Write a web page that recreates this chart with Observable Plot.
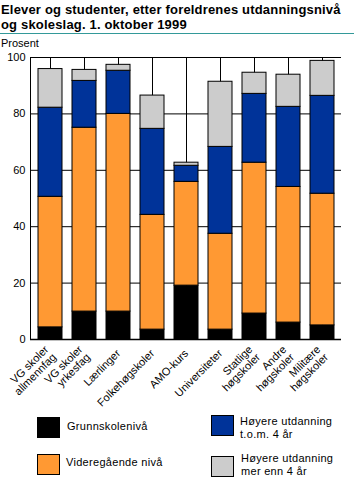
<!DOCTYPE html>
<html>
<head>
<meta charset="utf-8">
<script src="https://cdn.jsdelivr.net/npm/d3@7"></script>
<script src="https://cdn.jsdelivr.net/npm/@observablehq/plot@0.6"></script>
<style>
  html, body { margin: 0; padding: 0; background: #fff; }
  #wrap { position: relative; width: 354px; height: 481px; overflow: hidden; font-family: Arial, "Liberation Sans", Helvetica, sans-serif; color: #000; }
  .title { position: absolute; left: 1px; font-size: 13px; line-height: 15px; height: 15px; font-weight: bold; letter-spacing: 0.18px; white-space: nowrap; }
  #rule { position: absolute; left: 0; top: 33px; width: 354px; height: 0; border-top: 1px solid #339999; }
  #unit { position: absolute; left: 1px; top: 38px; font-size: 11px; line-height: 11px; }
  #chart { position: absolute; left: 0; top: 50px; }
  .sw { position: absolute; width: 21px; height: 19px; border: 1px solid #000; }
  .lt { position: absolute; font-size: 11px; line-height: 13px; letter-spacing: 0.3px; white-space: nowrap; }
</style>
</head>
<body>
<div id="wrap">
  <div class="title" style="top:2px">Elever og studenter, etter foreldrenes utdanningsnivå</div>
  <div class="title" style="top:17px">og skoleslag. 1. oktober 1999</div>
  <div id="rule"></div>
  <div id="unit">Prosent</div>
  <div id="chart"></div>
  <div id="legend"></div>
</div>
<script>
// Categories (school types) and their axis labels
const categories = ["VG skoler allmennfag", "VG skoler yrkesfag", "Lærlinger", "Folkehøgskoler", "AMO-kurs", "Universiteter", "Statlige høgskoler", "Andre høgskoler", "Militære høgskoler"];
const tickLabels = ["VG skoler\nallmennfag", "VG skoler\nyrkesfag", "Lærlinger", "Folkehøgskoler", "AMO-kurs", "Universiteter", "Statlige\nhøgskoler", "Andre\nhøgskoler", "Militære\nhøgskoler"];

// Series (parents' education level), bottom to top
const seriesNames = ["Grunnskolenivå", "Videregående nivå", "Høyere utdanning t.o.m. 4 år", "Høyere utdanning mer enn 4 år"];
const legendLabels = ["Grunnskolenivå", "Videregående nivå", "Høyere utdanning\nt.o.m. 4 år", "Høyere utdanning\nmer enn 4 år"];
const seriesColors = ["#000000", "#FF9933", "#003399", "#CCCCCC"];

// Values in percent
const grunnskole   = [4.3, 9.9, 9.9, 3.5, 19.1, 3.5, 9.2, 6.0, 5.0];
const videregaende = [46.3, 65.2, 70.1, 40.7, 36.8, 34.0, 53.5, 48.1, 46.7];
const hoyereKort   = [31.6, 16.6, 15.3, 30.5, 5.7, 30.8, 24.4, 28.4, 34.7];
const hoyereLang   = [13.7, 3.9, 2.1, 11.8, 1.1, 23.1, 7.5, 11.4, 12.4];

const yTicks = [0, 20, 40, 60, 80, 100];
const gridTicks = [20, 40, 60, 80, 100];

const seriesValues = [grunnskole, videregaende, hoyereKort, hoyereLang];
const data = [];
seriesNames.forEach((s, si) => {
  categories.forEach((c, ci) => data.push({cat: c, series: s, value: seriesValues[si][ci]}));
});

const chart = Plot.plot({
  width: 354,
  height: 362,
  marginLeft: 30,
  marginRight: 13,
  marginTop: 7,
  marginBottom: 73,
  style: {fontFamily: "Arial, 'Liberation Sans', Helvetica, sans-serif", fontSize: "11px", color: "#000", background: "#fff"},
  x: {domain: categories, paddingInner: 0.3, paddingOuter: 0.15, label: null},
  y: {domain: [0, 100], label: null},
  color: {domain: seriesNames, range: seriesColors},
  marks: [
    Plot.ruleY(gridTicks, {stroke: "#000", strokeWidth: 1}),
    Plot.ruleX(categories, {x: d => d, y1: 0, y2: 100, stroke: "#000", strokeWidth: 1}),
    Plot.barY(data, {x: "cat", y: "value", fill: "series", stroke: "#000", strokeWidth: 1, order: seriesNames}),
    Plot.ruleY([0], {stroke: "#000", strokeWidth: 1.5}),
    Plot.frame({anchor: "left", stroke: "#000", strokeWidth: 1}),
    Plot.axisY({ticks: yTicks, tickSize: 0, tickPadding: 5, fontSize: 11, label: null}),
    Plot.axisX({tickSize: 0, tickPadding: 12, tickRotate: -45, fontSize: 11, label: null,
      tickFormat: d => tickLabels[categories.indexOf(d)]})
  ]
});
document.getElementById("chart").appendChild(chart);

// Legend
const legend = document.getElementById("legend");
const swatchPos = [[37, 417], [37, 454], [211, 415], [211, 456]];
const textPos = [[67, 420], [66, 456], [240, 415], [241, 452]];
seriesNames.forEach((s, i) => {
  const sw = document.createElement("div");
  sw.className = "sw";
  sw.style.left = swatchPos[i][0] + "px";
  sw.style.top = swatchPos[i][1] + "px";
  sw.style.background = seriesColors[i];
  legend.appendChild(sw);
  const t = document.createElement("div");
  t.className = "lt";
  t.style.left = textPos[i][0] + "px";
  t.style.top = textPos[i][1] + "px";
  t.innerHTML = legendLabels[i].replace("\n", "<br>");
  legend.appendChild(t);
});
</script>
</body>
</html>
